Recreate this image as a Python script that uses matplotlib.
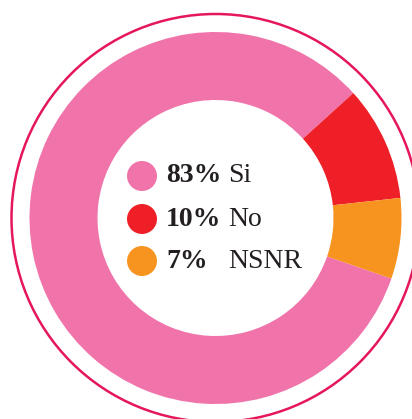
import matplotlib.pyplot as plt
from matplotlib.patches import Circle

# Survey answers
labels = ["Si", "No", "NSNR"]
shares = [83, 10, 7]
colors = ["#F073AA", "#EE1F27", "#F7941F"]
ring_color = "#E5175A"

W, H = 412, 419
fig = plt.figure(figsize=(W / 100, H / 100), dpi=100)
ax = fig.add_axes([0, 0, 1, 1])

cx, cy = 215.5, H - 218
outer_r, inner_r = 186, 118

ax.pie(shares, colors=colors, radius=outer_r, center=(cx, cy),
       startangle=-19, counterclock=False,
       wedgeprops=dict(width=outer_r - inner_r, linewidth=0))

# thin outline ring around the donut
ax.add_patch(Circle((cx, cy), 204, fill=False, ec=ring_color, lw=1.8))

# legend in the hole
rows_y = [H - 176, H - 219, H - 261]
for lab, pct, col, y in zip(labels, shares, colors, rows_y):
    ax.add_patch(Circle((142, y), 15, color=col, lw=0))
    ax.text(166, y, f"{pct}%", fontsize=20, fontweight="bold",
            family="Liberation Serif", color="#231F20", va="center")
    ax.text(228, y, lab, fontsize=20, family="Liberation Serif",
            color="#231F20", va="center")

ax.set_xlim(0, W)
ax.set_ylim(0, H)
ax.set_aspect("equal")
ax.axis("off")
fig.savefig("out.png", dpi=100)
